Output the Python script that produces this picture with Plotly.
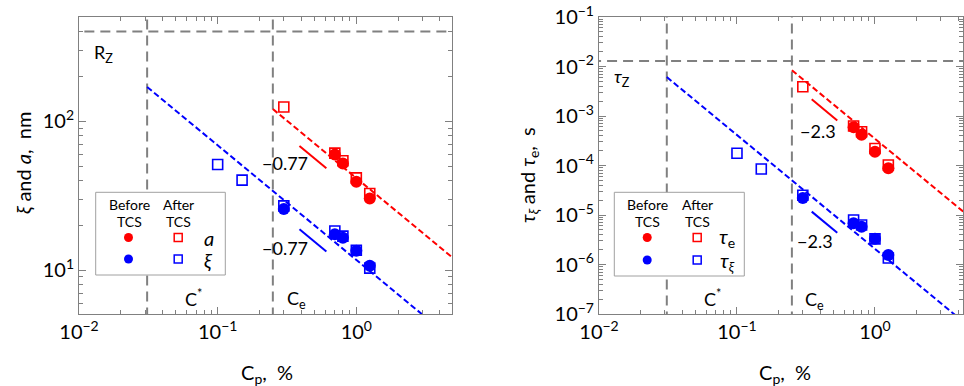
import numpy as np
import plotly.graph_objects as go

W, H = 964, 386
FONT = "Lato"
GRAY = "#808080"
RED = "#ff0000"
BLUE = "#0000ff"

# ---------------- data ----------------
conc_before_a = [0.7, 0.8, 1.0, 1.25]
conc_after_a = [0.3, 0.7, 0.8, 1.0, 1.25]
conc_before_xi = [0.3, 0.7, 0.8, 1.0, 1.25]
conc_after_xi = [0.1, 0.15, 0.3, 0.7, 0.8, 1.0, 1.25]

a_before = [59.8, 52.0, 39.2, 30.3]
a_after = [124.7, 61.0, 54.2, 41.6, 32.7]
xi_before = [25.7, 17.4, 16.5, 13.5, 10.7]
xi_after = [51.2, 40.2, 27.0, 18.3, 16.9, 13.6, 10.3]

tau_e_before = [5.9e-4, 4.2e-4, 1.9e-4, 8.8e-5]
tau_e_after = [3.9e-3, 6.3e-4, 4.8e-4, 2.2e-4, 1.02e-4]
tau_xi_before = [2.2e-5, 6.8e-6, 5.8e-6, 3.3e-6, 1.56e-6]
tau_xi_after = [1.77e-4, 8.5e-5, 2.5e-5, 7.9e-6, 6.3e-6, 3.3e-6, 1.35e-6]

C_star = 0.031
C_e = 0.25
R_Z = 400
tau_Z = 0.0129

# power-law fits: prefactor (value at Cp=1), exponent, start concentration
fit_a = (41.5, -0.77, C_e)
fit_xi = (11.7, -0.77, C_star)
fit_tau_e = (3.47e-4, -2.3, C_e)
fit_tau_xi = (2.07e-6, -2.3, C_star)
fit_end = 10.0

# slope guide segments: (x start, y start, x end, exponent)
guide_a = (0.389, 68.2, 0.608, -0.77)
guide_xi = (0.389, 18.8, 0.608, -0.77)
guide_tau_e = (0.348, 2.17e-3, 0.533, -2.3)
guide_tau_xi = (0.348, 1.17e-5, 0.533, -2.3)

x_ticks = [0.01, 0.1, 1]
x_ticktext = ["10<sup>−2</sup>", "10<sup>−1</sup>", "10<sup>0</sup>"]
y1_ticks = [10, 100]
y1_ticktext = ["10<sup>1</sup>", "10<sup>2</sup>"]
y2_ticks = [1e-7, 1e-6, 1e-5, 1e-4, 1e-3, 1e-2, 1e-1]
y2_ticktext = ["10<sup>−7</sup>", "10<sup>−6</sup>", "10<sup>−5</sup>", "10<sup>−4</sup>",
               "10<sup>−3</sup>", "10<sup>−2</sup>", "10<sup>−1</sup>"]

fig = go.Figure()


def add_points(x, y, color, symbol, size, xa, ya, lw=0):
    fig.add_trace(go.Scatter(
        x=x, y=y, mode="markers", xaxis=xa, yaxis=ya, showlegend=False,
        marker=dict(symbol=symbol, size=size, color=color,
                    line=dict(color=color, width=lw)),
        cliponaxis=False))


def add_fit(fit, color, xa, ya):
    pref, ex, start = fit
    xs = np.array([start, fit_end])
    ys = pref * xs ** ex
    fig.add_trace(go.Scatter(x=xs, y=ys, mode="lines", xaxis=xa, yaxis=ya,
                             showlegend=False,
                             line=dict(color=color, width=2, dash="6px,3px")))


def add_guide(g, color, xa, ya):
    x0, y0, x1, ex = g
    xs = np.array([x0, x1])
    ys = y0 * (xs / x0) ** ex
    fig.add_trace(go.Scatter(x=xs, y=ys, mode="lines", xaxis=xa, yaxis=ya,
                             showlegend=False, line=dict(color=color, width=2)))


def add_vline(cv, xa, ya):
    fig.add_trace(go.Scatter(x=[cv, cv], y=[1e-12, 1e12], mode="lines", xaxis=xa, yaxis=ya,
                             showlegend=False,
                             line=dict(color=GRAY, width=2, dash="10px,6px")))


def add_hline(hv, xa, ya):
    fig.add_trace(go.Scatter(x=[1e-6, 1e6], y=[hv, hv], mode="lines", xaxis=xa, yaxis=ya,
                             showlegend=False,
                             line=dict(color=GRAY, width=2, dash="10px,6px")))


# left panel
add_hline(R_Z, "x", "y")
add_vline(C_star, "x", "y")
add_vline(C_e, "x", "y")
add_fit(fit_a, RED, "x", "y")
add_fit(fit_xi, BLUE, "x", "y")
add_guide(guide_a, RED, "x", "y")
add_guide(guide_xi, BLUE, "x", "y")
add_points(conc_before_a, a_before, RED, "circle", 12, "x", "y")
add_points(conc_before_xi, xi_before, BLUE, "circle", 12, "x", "y")
add_points(conc_after_a, a_after, RED, "square-open", 10, "x", "y", 1.6)
add_points(conc_after_xi, xi_after, BLUE, "square-open", 10, "x", "y", 1.6)

# right panel
add_hline(tau_Z, "x2", "y2")
add_vline(C_star, "x2", "y2")
add_vline(C_e, "x2", "y2")
add_fit(fit_tau_e, RED, "x2", "y2")
add_fit(fit_tau_xi, BLUE, "x2", "y2")
add_guide(guide_tau_e, RED, "x2", "y2")
add_guide(guide_tau_xi, BLUE, "x2", "y2")
add_points(conc_before_a, tau_e_before, RED, "circle", 12, "x2", "y2")
add_points(conc_before_xi, tau_xi_before, BLUE, "circle", 12, "x2", "y2")
add_points(conc_after_a, tau_e_after, RED, "square-open", 10, "x2", "y2", 1.6)
add_points(conc_after_xi, tau_xi_after, BLUE, "square-open", 10, "x2", "y2", 1.6)


def axis(domain, rng, anchor, tv, tt):
    return dict(
        type="log", domain=domain, range=rng, anchor=anchor,
        showline=True, linecolor=GRAY, linewidth=1, mirror="ticks",
        ticks="inside", ticklen=7, tickcolor=GRAY, tickwidth=1,
        showgrid=False, zeroline=False, automargin=False,
        tickmode="array", tickvals=tv, ticktext=tt,
        tickfont=dict(family=FONT, size=20, color="black"),
        minor=dict(ticks="inside", ticklen=4, tickcolor=GRAY, tickwidth=1,
                   tickmode="linear", dtick="D1", showgrid=False),
    )


ydom = [1 - 314 / H, 1 - 17 / H]
fig.update_layout(
    width=W, height=H, margin=dict(l=0, r=0, t=0, b=0),
    paper_bgcolor="white", plot_bgcolor="white",
    font=dict(family=FONT, color="black"),
    xaxis=axis([79 / W, 452 / W], [-2, 0.69], "y", x_ticks, x_ticktext),
    yaxis=axis(ydom, [0.705, 2.70], "x", y1_ticks, y1_ticktext),
    xaxis2=axis([599 / W, 963 / W], [-2, 0.638], "y2", x_ticks, x_ticktext),
    yaxis2=axis(ydom, [-7, -1], "x2", y2_ticks, y2_ticktext),
)


def ann(text, x, y, xref, yref, size=18, **kw):
    fig.add_annotation(text=text, x=x, y=y, xref=xref, yref=yref, showarrow=False,
                       font=dict(family=FONT, size=size, color="black"), **kw)


# panel labels (log coords)
ann("R<sub>Z</sub>", -1.822, 2.454, "x", "y")
ann("C<sup>*</sup>", np.log10(0.067), 0.812, "x", "y")
ann("C<sub>e</sub>", np.log10(0.37), 0.80, "x", "y")
ann("−0.77", np.log10(0.308), np.log10(52), "x", "y", 18)
ann("−0.77", np.log10(0.308), np.log10(14.0), "x", "y", 18)

ann("<i>τ</i><sub>Z</sub>", -1.83, -2.23, "x2", "y2")
ann("C<sup>*</sup>", np.log10(0.0667), -6.68, "x2", "y2")
ann("C<sub>e</sub>", np.log10(0.367), -6.72, "x2", "y2")
ann("−2.3", np.log10(0.386), np.log10(4.9e-4), "x2", "y2", 18)
ann("−2.3", np.log10(0.367), np.log10(2.95e-6), "x2", "y2", 18)


def pann(text, px, py, size=20, angle=0, yanchor="middle"):
    fig.add_annotation(text=text, x=px / W, y=1 - py / H, xref="paper", yref="paper",
                       showarrow=False, textangle=angle, borderpad=0,
                       font=dict(family=FONT, size=size, color="black"),
                       xanchor="center", yanchor=yanchor)


pann("<i>ξ</i> and <i>a</i>,  nm", 23, 163, 20, -90)
pann("<i>τ</i><sub><i>ξ</i></sub> and <i>τ</i><sub>e</sub>,  s", 528, 175, 20, -90)
pann("C<sub>p</sub>,  %", 267, 373, 20)
pann("C<sub>p</sub>,  %", 785, 373, 20)


# legends
def legend_box(x0, x1, y0, y1, cb, ca, ct, row1, row2, lab1, lab2):
    fig.add_shape(type="rect", xref="paper", yref="paper", x0=x0 / W, x1=x1 / W,
                  y0=1 - y1 / H, y1=1 - y0 / H, line=dict(color="#a0a0a0", width=1),
                  fillcolor="white", layer="above")
    pann("Before", cb, 204.0, 14)
    pann("TCS", cb, 221.0, 14)
    pann("After", ca, 204.0, 14)
    pann("TCS", ca, 221.0, 14)
    for py, col in ((row1, RED), (row2, BLUE)):
        fig.add_shape(type="circle", xref="paper", yref="paper",
                      xsizemode="pixel", ysizemode="pixel",
                      xanchor=(cb - 0.5) / W, yanchor=1 - py / H,
                      x0=-4.5, x1=4.5, y0=-4.5, y1=4.5,
                      fillcolor=col, line=dict(width=0), layer="above")
        fig.add_shape(type="rect", xref="paper", yref="paper",
                      xsizemode="pixel", ysizemode="pixel",
                      xanchor=(ca - 0.5) / W, yanchor=1 - py / H,
                      x0=-4, x1=4, y0=-4, y1=4,
                      fillcolor="white", line=dict(color=col, width=1.5), layer="above")
    pann(lab1, ct, row1, 20)
    pann(lab2, ct, row2 + 1, 20)


legend_box(95.7, 225.3, 192.3, 275, 129, 178.7, 208.5, 237.5, 259.0,
           "<i>a</i>", "<i>ξ</i>")
legend_box(614.3, 744.3, 192.3, 276, 647.7, 697.7, 727, 237.5, 260.0,
           "<i>τ</i><sub>e</sub>", "<i>τ</i><sub><i>ξ</i></sub>")

fig.write_html("out.html")
